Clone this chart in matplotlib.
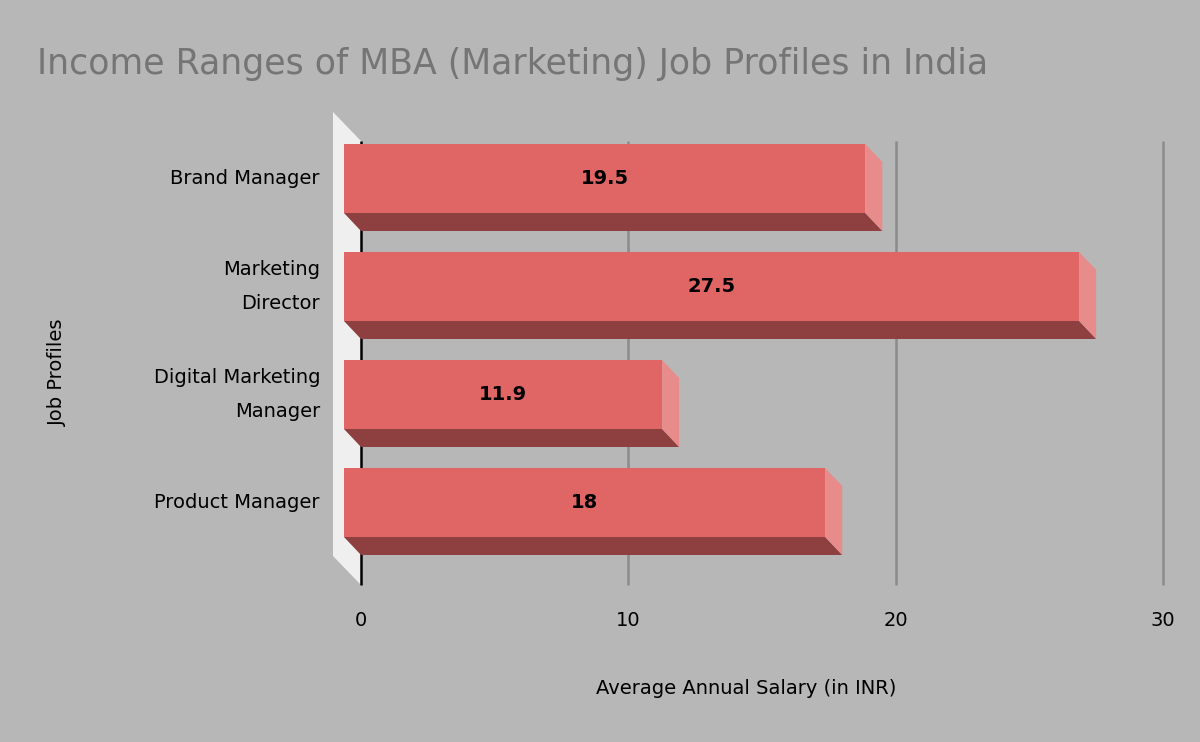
import matplotlib.pyplot as plt
from matplotlib.patches import Polygon

# data
profiles = ["Brand Manager", "Marketing\nDirector", "Digital Marketing\nManager", "Product Manager"]
salaries = [19.5, 27.5, 11.9, 18]
x_ticks = [0, 10, 20, 30]

bg = "#b7b7b7"
front_col = "#e06666"
bottom_col = "#8e3f3f"
side_col = "#e88b8b"
wall_col = "#efefef"
font = "DejaVu Sans"

n = len(profiles)
px_x = 802 / 30   # px per data unit (x)
px_y = 108        # px per category band

fig = plt.figure(figsize=(12, 7.42), dpi=100, facecolor=bg)
ax = fig.add_axes([361 / 1200, (742 - 574.5) / 742, 802 / 1200, 432 / 742])
ax.set_facecolor("none")
ax.set_xlim(0, 30)
ax.set_ylim(n, 0)
for s in ax.spines.values():
    s.set_visible(False)

# 3d offsets (screen px -> data units)
dx = 17 / px_x
dy = 18 / px_y
bh = 69 / px_y
ytop = -1.5 / px_y
ybot = n + 10.5 / px_y

# left wall
wx = 28 / px_x
wy = 29 / px_y
ax.add_patch(Polygon([(-wx, ytop - wy), (0, ytop), (0, ybot), (-wx, ybot - wy)],
                     closed=True, fc=wall_col, ec="none", clip_on=False, zorder=1))

for t in x_ticks[1:]:
    ax.plot([t, t], [ytop, ybot], color="#8b8b8b", lw=1.8, zorder=1, clip_on=False,
            solid_capstyle="butt")
ax.plot([0, 0], [ytop, ybot], color="black", lw=1.8, zorder=2, clip_on=False,
        solid_capstyle="butt")

for i, (v, lab) in enumerate(zip(salaries, profiles)):
    c = i + 0.5
    y0, y1 = c - bh / 2, c + bh / 2
    # bottom face
    ax.add_patch(Polygon([(-dx, y1 - dy), (v - dx, y1 - dy), (v, y1), (0, y1)],
                         closed=True, fc=bottom_col, ec="none", zorder=3, clip_on=False))
    # side face
    ax.add_patch(Polygon([(v - dx, y0 - dy), (v, y0), (v, y1), (v - dx, y1 - dy)],
                         closed=True, fc=side_col, ec="none", zorder=3, clip_on=False))
    # front face
    ax.add_patch(Polygon([(-dx, y0 - dy), (v - dx, y0 - dy), (v - dx, y1 - dy), (-dx, y1 - dy)],
                         closed=True, fc=front_col, ec="none", zorder=4, clip_on=False))
    ax.text(v / 2 - dx, c - dy, f"{v:g}", ha="center", va="center", fontsize=14,
            fontweight="bold", color="black", family=font, zorder=5)
    ax.text(-41 / px_x, c - dy, lab, ha="right", va="center", fontsize=14, color="black",
            family=font, linespacing=2.05)

ax.set_xticks(x_ticks)
ax.set_xticklabels([str(t) for t in x_ticks], fontsize=14, family=font)
ax.tick_params(axis="x", length=0, pad=26)
ax.set_yticks([])

fig.text(746 / 1200, 1 - 689 / 742, "Average Annual Salary (in INR)", ha="center", va="center",
         fontsize=14, family=font)
fig.text(57 / 1200, 1 - 372 / 742, "Job Profiles", ha="center", va="center", rotation=90,
         fontsize=14, family=font)
fig.text(37 / 1200, 1 - 64 / 742, "Income Ranges of MBA (Marketing) Job Profiles in India",
         ha="left", va="center", fontsize=25, color="#757575", family=font)

fig.savefig("out.png", dpi=100, facecolor=bg)
